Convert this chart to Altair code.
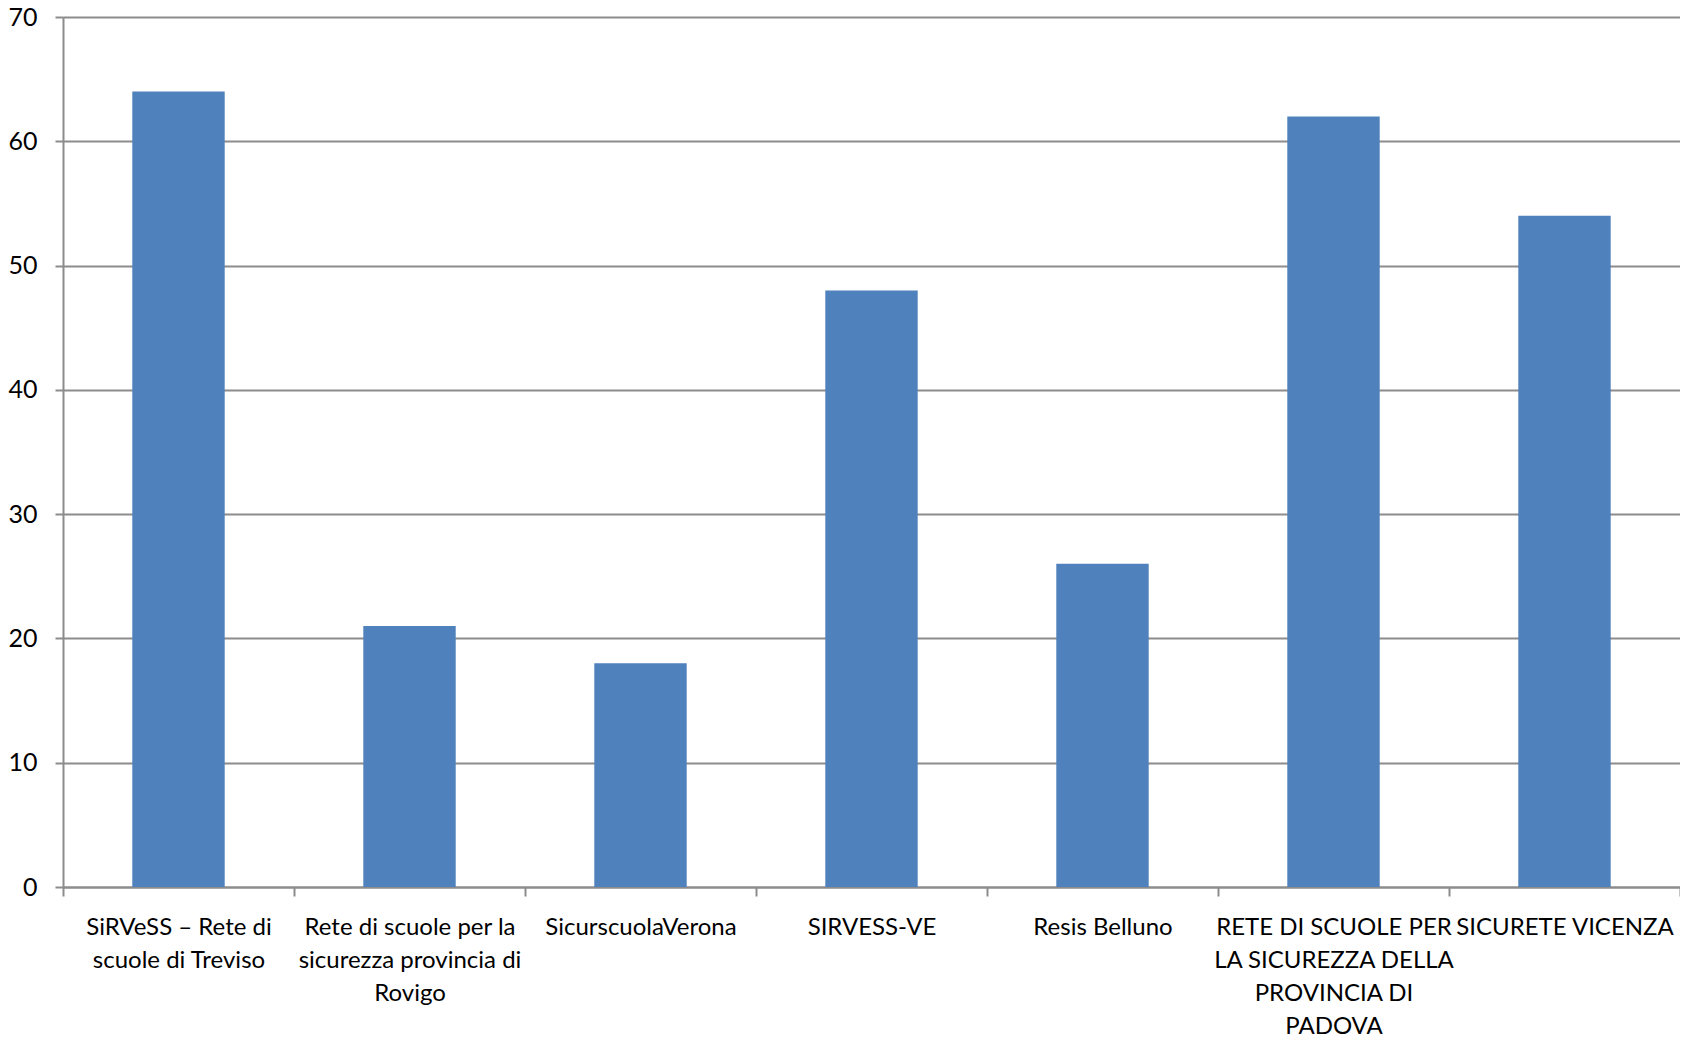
import altair as alt
import pandas as pd

categories = [
    "SiRVeSS – Rete di scuole di Treviso",
    "Rete di scuole per la sicurezza provincia di Rovigo",
    "SicurscuolaVerona",
    "SIRVESS-VE",
    "Resis Belluno",
    "RETE DI SCUOLE PER LA SICUREZZA DELLA PROVINCIA DI PADOVA",
    "SICURETE VICENZA",
]
values = [64, 21, 18, 48, 26, 62, 54]
label_lines = [
    ["SiRVeSS – Rete di", "scuole di Treviso"],
    ["Rete di scuole per la", "sicurezza provincia di", "Rovigo"],
    ["SicurscuolaVerona"],
    ["SIRVESS-VE"],
    ["Resis Belluno"],
    ["RETE DI SCUOLE PER", "LA SICUREZZA DELLA", "PROVINCIA DI", "PADOVA"],
    ["SICURETE VICENZA"],
]
y_ticks = [0, 10, 20, 30, 40, 50, 60, 70]

df = pd.DataFrame({"cat": categories, "val": values})

label_expr = " : ".join(
    [f"datum.label == {repr(c)} ? {label_lines[i]!r}" for i, c in enumerate(categories)]
) + " : datum.label"

FONT = "Lato"
GRID = "#8c8c8c"

chart = alt.Chart(df).mark_bar(color="#4F81BD", width=alt.RelativeBandSize(0.4)).encode(
    x=alt.X(
        "cat:N",
        sort=categories,
        title=None,
        scale=alt.Scale(paddingInner=0, paddingOuter=0),
        axis=alt.Axis(
            labelAngle=0,
            labelExpr=label_expr,
            labelFont=FONT,
            labelFontSize=24,
            labelColor="#000000",
            labelLineHeight=33,
            labelPadding=19,
            labelLimit=0,
            labelBaseline="top",
            domainColor=GRID,
            domainWidth=2,
            tickColor=GRID,
            tickWidth=2,
            tickSize=9,
            tickBand="extent",
            grid=False,
        ),
    ),
    y=alt.Y(
        "val:Q",
        title=None,
        scale=alt.Scale(domain=[0, 70], nice=False),
        axis=alt.Axis(
            values=y_ticks,
            labelFont=FONT,
            labelFontSize=25,
            labelColor="#000000",
            labelPadding=18,
            domainColor=GRID,
            domainWidth=2,
            tickColor=GRID,
            tickWidth=2,
            tickSize=8,
            gridColor=GRID,
            gridWidth=2,
        ),
    ),
).properties(
    width=1617,
    height=870,
    autosize=alt.AutoSizeParams(type="none"),
    padding={"left": 55, "top": 9, "right": 0, "bottom": 150},
).configure_view(stroke=None).configure(background="white")

chart.save("out.html", embed_options={"renderer": "svg", "actions": False})
